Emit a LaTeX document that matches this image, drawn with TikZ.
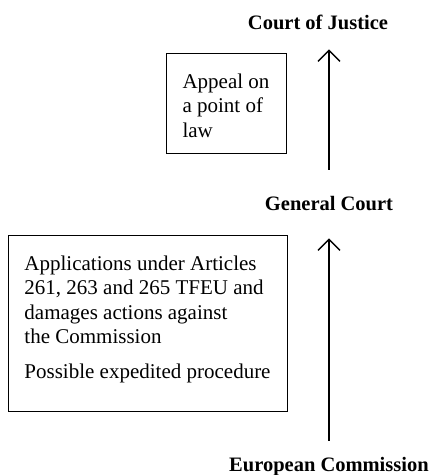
\documentclass[tikz,border=0pt]{standalone}
\usepackage{fontspec}
\setmainfont{Liberation Serif}
\usetikzlibrary{arrows.meta}
\newcommand{\topstrut}[1]{\rule{0pt}{#1}}
\newcommand{\botstrut}[1]{\rule[-#1]{0pt}{#1}}
\begin{document}
\begin{tikzpicture}[x=1pt,y=-1pt,
  label/.style={font=\fontsize{20.5}{24}\selectfont\bfseries, inner sep=0pt, anchor=base},
  infobox/.style={draw, line width=0.8pt, align=left, inner xsep=14pt, inner ysep=0pt, anchor=north,
    font=\fontsize{21}{24.5}\selectfont},
  uparrow/.style={line width=1.6pt, -{Straight Barb[length=11pt,width=22pt,line width=1.4pt]}}]
\useasboundingbox (0,0) rectangle (433,475);
\node[label] (cj) at (318,29) {Court of Justice};
\node[label] (gc) at (329,210) {General Court};
\node[label] (ec) at (329,471) {European Commission};
\node[infobox, minimum width=120pt] (appeal) at (226,53)
  {\topstrut{35pt}Appeal on\\a point of\\law\botstrut{16pt}};
\node[infobox, minimum width=279pt] (apps) at (147.5,235)
  {\topstrut{35pt}Applications under Articles\\261, 263 and 265 TFEU and\\damages actions against\\the Commission\\[10.5pt]Possible expedited procedure\botstrut{32.5pt}};
\draw[uparrow, shorten <=26pt, shorten >=20pt] (gc.north -| 329,0) -- (cj.south -| 329,0);
\draw[uparrow, shorten <=16pt, shorten >=28pt] (ec.north) -- (gc.south);
\end{tikzpicture}
\end{document}
